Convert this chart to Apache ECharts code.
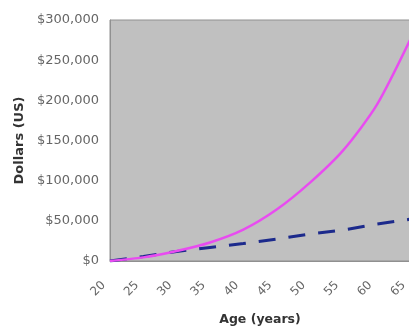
<!DOCTYPE html>
<html>
<head>
<meta charset="utf-8">
<script src="https://cdn.jsdelivr.net/npm/echarts@6/dist/echarts.min.js"></script>
<style>
  html, body { margin: 0; padding: 0; background: #ffffff; }
  #chart { width: 409px; height: 327px; }
</style>
</head>
<body>
<div id="chart"></div>
<script>
// Ages along the horizontal axis
const ages = ['20', '25', '30', '35', '40', '45', '50', '55', '60', '65'];
// Account balance with compound growth (solid magenta)
const compounded = [0, 4500, 12400, 23000, 39000, 64000, 97500, 138000, 194000, 275000];
// Total amount contributed (dashed navy)
const contributed = [0, 5600, 11800, 16800, 21800, 27400, 33500, 38500, 46000, 52000];
// Value-axis ticks
const yTicks = [0, 50000, 100000, 150000, 200000, 250000, 300000];

const fmt = v => '$' + v.toLocaleString('en-US');

const chart = echarts.init(document.getElementById('chart'), null, { renderer: 'canvas' });
chart.setOption({
  animation: false,
  grid: {
    left: 110, right: -1, top: 20, bottom: 66,
    outerBoundsMode: 'none',
    containLabel: false,
    show: true,
    backgroundColor: '#c0c0c0',
    borderColor: '#909090',
    borderWidth: 1
  },
  xAxis: {
    type: 'category',
    data: ages,
    boundaryGap: false,
    name: 'Age (years)',
    nameLocation: 'middle',
    nameGap: 52,
    nameTextStyle: { fontFamily: 'DejaVu Sans', fontWeight: 'bold', fontSize: 12.5, color: '#333' },
    axisLine: { show: true, lineStyle: { color: '#909090' } },
    axisTick: { show: false },
    axisLabel: {
      rotate: 45, margin: 16,
      padding: [0, 9, 0, 0],
      fontFamily: 'DejaVu Sans', fontSize: 12, color: '#666'
    },
    splitLine: { show: false }
  },
  yAxis: {
    type: 'value',
    min: yTicks[0],
    max: yTicks[yTicks.length - 1],
    interval: yTicks[1] - yTicks[0],
    name: 'Dollars (US)',
    nameLocation: 'middle',
    nameGap: 82,
    nameTextStyle: { fontFamily: 'DejaVu Sans', fontWeight: 'bold', fontSize: 13, color: '#333' },
    axisLine: { show: true, lineStyle: { color: '#909090' } },
    axisTick: { show: false },
    axisLabel: {
      margin: 11, formatter: fmt,
      fontFamily: 'DejaVu Sans', fontSize: 13, color: '#666'
    },
    splitLine: { show: false }
  },
  series: [
    {
      type: 'line',
      data: contributed,
      symbol: 'none',
      lineStyle: { color: '#1c2a8c', width: 3, type: [17, 13] }
    },
    {
      type: 'line',
      data: compounded,
      symbol: 'none',
      smooth: 0.25,
      lineStyle: { color: '#e84cf0', width: 2.5 }
    }
  ]
});
</script>
</body>
</html>
